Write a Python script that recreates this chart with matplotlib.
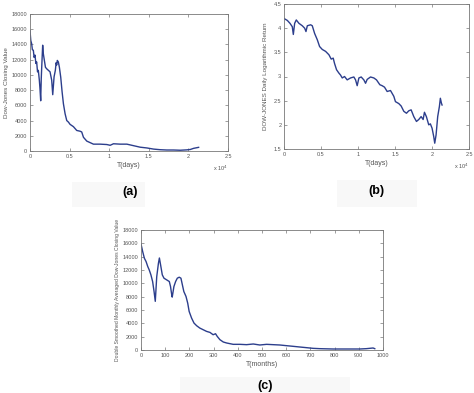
import matplotlib
matplotlib.use("Agg")
import matplotlib.pyplot as plt
from matplotlib.patches import Rectangle
from matplotlib.ticker import FuncFormatter

plt.rcParams['font.family'] = ['Liberation Sans', 'DejaVu Sans']

# ---- Panel (a): Dow-Jones closing value vs days ----
a_days = [0, 100, 210, 300, 420, 520, 630, 740, 840, 950, 1050, 1180, 1260, 1350, 1420,
          1480, 1600, 1680, 1770, 1950, 2110, 2320, 2530, 2740, 2870, 3040, 3200, 3300,
          3370, 3450, 3580, 3710, 3880, 4050, 4220, 4430, 4640, 4850, 5060, 5480, 5900,
          6320, 6530, 6750, 7170, 7590, 8010, 8850, 9700, 10120, 10540, 11380, 12230,
          13070, 13910, 14760, 15600, 16440, 17280, 18130, 18970, 19810, 20240, 20660, 21290]
a_vals = [15800, 14500, 14100, 13300, 13250, 12300, 12600, 11500, 11700, 10400, 10600,
          9300, 8200, 6600, 9500, 11000, 13900, 12800, 12200, 11000, 10800, 10600, 10400,
          9300, 7400, 9750, 10600, 11600, 11300, 11900, 11700, 11000, 9700, 7800, 6200,
          4900, 4000, 3800, 3500, 3200, 2700, 2600, 2500, 1800, 1300, 1100, 900, 900, 850,
          750, 950, 900, 900, 700, 500, 400, 250, 170, 130, 130, 100, 150, 200, 350, 480]

# ---- Panel (b): log values vs days ----
b_days = [0, 450, 810, 1120, 1260, 1440, 1660, 2020, 2470, 2790, 2970, 3150, 3600, 3820,
          4140, 4500, 4810, 5170, 5620, 6070, 6380, 6650, 6830, 7100, 7420, 7640, 7870,
          8180, 8540, 8990, 9440, 9670, 9890, 10120, 10430, 10790, 11020, 11240, 11690,
          12140, 12500, 12950, 13260, 13580, 13940, 14390, 14840, 15060, 15510, 15830,
          16190, 16550, 16860, 17180, 17540, 17900, 18210, 18530, 18800, 18980, 19240,
          19560, 19780, 20010, 20230, 20370, 20550, 20770, 21000, 21130, 21270, 21360]
b_vals = [4.20, 4.16, 4.10, 4.03, 3.87, 4.10, 4.17, 4.10, 4.05, 4.00, 3.93, 4.05, 4.07,
          4.05, 3.89, 3.76, 3.62, 3.56, 3.52, 3.45, 3.36, 3.38, 3.27, 3.14, 3.07, 3.03,
          2.97, 3.00, 2.93, 2.97, 2.99, 2.93, 2.81, 2.97, 2.99, 2.93, 2.86, 2.94, 2.99,
          2.97, 2.93, 2.83, 2.81, 2.78, 2.69, 2.71, 2.59, 2.48, 2.44, 2.39, 2.28, 2.24,
          2.29, 2.31, 2.17, 2.07, 2.11, 2.17, 2.11, 2.26, 2.17, 2.00, 2.02, 1.93, 1.76,
          1.62, 1.79, 2.17, 2.38, 2.55, 2.45, 2.41]

# ---- Panel (c): double smoothed monthly averaged values ----
c_months = [0, 7, 14, 21, 28, 34, 41, 48, 54, 59, 65, 72, 76, 81, 88, 95, 106, 117, 122,
            127, 129, 136, 143, 150, 158, 165, 171, 177, 186, 193, 199, 209, 219, 230, 243,
            257, 271, 285, 298, 308, 315, 326, 340, 354, 381, 409, 436, 464, 491, 519, 546,
            574, 601, 629, 656, 684, 711, 739, 794, 849, 904, 931, 959, 966]
c_vals = [15900, 14750, 13760, 13260, 12510, 12010, 11270, 10270, 8770, 7300, 11000, 13000,
          13800, 12760, 11270, 10770, 10520, 10270, 9520, 8270, 7930, 9520, 10270, 10770,
          10920, 10770, 9770, 8770, 8030, 7030, 5780, 4790, 4040, 3640, 3290, 3040, 2790,
          2640, 2290, 2440, 2040, 1550, 1200, 1050, 850, 850, 800, 900, 750, 850, 800, 750,
          650, 550, 450, 350, 250, 200, 150, 150, 150, 200, 300, 200]

a_xticks = [0, 5000, 10000, 15000, 20000, 25000]
a_yticks = [0, 2000, 4000, 6000, 8000, 10000, 12000, 14000, 16000, 18000]
b_yticks = [1.5, 2, 2.5, 3, 3.5, 4, 4.5]
c_xticks = [0, 100, 200, 300, 400, 500, 600, 700, 800, 900, 1000]

LINE = "#2c3e8c"
TXT = "#555555"
W, H = 474, 393

fig = plt.figure(figsize=(W / 100, H / 100), dpi=100)
fig.patch.set_facecolor("white")


def ax_at(l, t, r, b):
    return fig.add_axes([l / W, 1 - b / H, (r - l) / W, (b - t) / H])


def style(ax):
    ax.tick_params(direction="in", length=2, width=0.5, labelsize=4.0,
                   colors="#777777", labelcolor=TXT, top=True, right=True, pad=2)
    for s in ax.spines.values():
        s.set_color("#777777")
        s.set_linewidth(0.6)


def sci_fmt(x, pos):
    return "%g" % (x / 1e4)


# faint label boxes
for (x0, y0, w, h) in [(72, 182, 73, 25), (337, 180, 80, 27), (180, 377, 170, 16)]:
    fig.patches.append(Rectangle((x0 / W, 1 - (y0 + h) / H), w / W, h / H,
                                 transform=fig.transFigure, facecolor="#f8f8f8",
                                 edgecolor="none", zorder=0))

# (a)
axa = ax_at(30, 14, 228, 151)
axa.plot(a_days, a_vals, color=LINE, lw=1.0)
axa.set_xlim(0, 25000)
axa.set_ylim(0, 18000)
axa.set_xticks(a_xticks)
axa.set_yticks(a_yticks)
axa.xaxis.set_major_formatter(FuncFormatter(sci_fmt))
style(axa)
axa.set_xlabel("T(days)", fontsize=5, color=TXT, labelpad=2)
axa.set_ylabel("Dow-Jones Closing Value", fontsize=4.5, color=TXT, labelpad=2)
fig.text(228 / W, 1 - 168 / H, r"x 10$^4$", fontsize=4.0, color=TXT, ha="right", va="center")
fig.text(130 / W, 1 - 192 / H, "(a)", fontsize=9, fontweight="bold", ha="center", va="center")

# (b)
axb = ax_at(284, 4, 469, 149)
axb.plot(b_days, b_vals, color=LINE, lw=1.0)
axb.set_xlim(0, 25000)
axb.set_ylim(1.5, 4.5)
axb.set_xticks(a_xticks)
axb.set_yticks(b_yticks)
axb.xaxis.set_major_formatter(FuncFormatter(sci_fmt))
axb.yaxis.set_major_formatter(FuncFormatter(lambda v, p: "%g" % v))
style(axb)
axb.set_xlabel("T(days)", fontsize=5, color=TXT, labelpad=2)
axb.set_ylabel("DOW-JONES Daily Logarithmic Return", fontsize=4.5, color=TXT, labelpad=4)
fig.text(469 / W, 1 - 166 / H, r"x 10$^4$", fontsize=4.0, color=TXT, ha="right", va="center")
fig.text(376 / W, 1 - 191 / H, "(b)", fontsize=9, fontweight="bold", ha="center", va="center")

# (c)
axc = ax_at(141, 230, 383, 350)
axc.plot(c_months, c_vals, color=LINE, lw=1.0)
axc.set_xlim(0, 1000)
axc.set_ylim(0, 18000)
axc.set_xticks(c_xticks)
axc.set_yticks(a_yticks)
style(axc)
axc.set_xlabel("T(months)", fontsize=5, color=TXT, labelpad=2)
axc.set_ylabel("Double Smoothed Monthly Averaged Dow-Jones Closing Value",
               fontsize=3.6, color=TXT, labelpad=2)
fig.text(265 / W, 1 - 386 / H, "(c)", fontsize=9, fontweight="bold", ha="center", va="center")

fig.savefig("out.png", dpi=100, facecolor="white")
